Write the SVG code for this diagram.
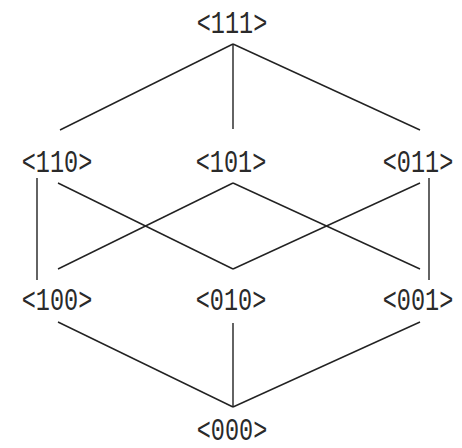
<svg xmlns="http://www.w3.org/2000/svg" width="462" height="448" viewBox="0 0 462 448">
<style>
text{font-family:"Liberation Mono","DejaVu Sans Mono",monospace;font-size:23.5px;fill:#2a2a2a;text-anchor:middle}
.e line{stroke:#222;stroke-width:1.4}
</style>
<rect width="462" height="448" fill="#fff"/>
<g class="e" id="connectors">
<line x1="233" y1="44" x2="60" y2="130"/>
<line x1="233" y1="44" x2="233" y2="129"/>
<line x1="233" y1="44" x2="420" y2="130"/>
<line x1="37" y1="178" x2="37" y2="280"/>
<line x1="429" y1="178" x2="429" y2="280"/>
<line x1="58" y1="183" x2="233" y2="269"/>
<line x1="233" y1="183" x2="58" y2="269"/>
<line x1="233" y1="183" x2="420" y2="269"/>
<line x1="420" y1="183" x2="233" y2="269"/>
<line x1="58" y1="322" x2="233" y2="407"/>
<line x1="233" y1="323" x2="233" y2="407"/>
<line x1="420" y1="322" x2="233" y2="407"/>
</g>
<g id="n111" transform="translate(232,33) scale(1,1.3)"><text x="0" y="0">&lt;111&gt;</text></g>
<g id="n110" transform="translate(57,172) scale(1,1.3)"><text x="0" y="0">&lt;110&gt;</text></g>
<g id="n101" transform="translate(231,172) scale(1,1.3)"><text x="0" y="0">&lt;101&gt;</text></g>
<g id="n011" transform="translate(418,172) scale(1,1.3)"><text x="0" y="0">&lt;011&gt;</text></g>
<g id="n100" transform="translate(57,310) scale(1,1.3)"><text x="0" y="0">&lt;100&gt;</text></g>
<g id="n010" transform="translate(231,310) scale(1,1.3)"><text x="0" y="0">&lt;010&gt;</text></g>
<g id="n001" transform="translate(418,310) scale(1,1.3)"><text x="0" y="0">&lt;001&gt;</text></g>
<g id="n000" transform="translate(232,440) scale(1,1.3)"><text x="0" y="0">&lt;000&gt;</text></g>
</svg>
